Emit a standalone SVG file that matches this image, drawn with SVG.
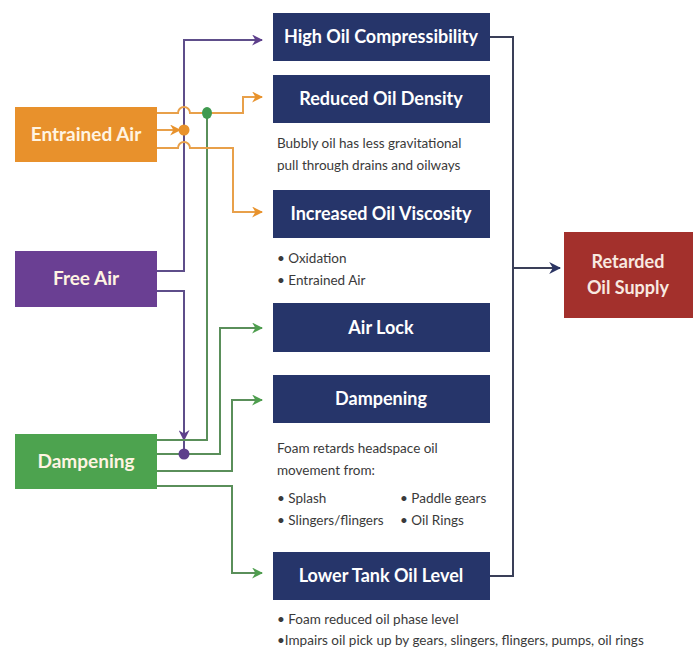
<svg xmlns="http://www.w3.org/2000/svg" width="700" height="652" viewBox="0 0 700 652">
<defs>
<marker id="aO" viewBox="0 0 10 10" refX="9" refY="5" markerWidth="11" markerHeight="11" markerUnits="userSpaceOnUse" orient="auto"><path d="M0,0 L10,5 L0,10 L3,5 z" fill="#E8922C"/></marker>
<marker id="aP" viewBox="0 0 10 10" refX="9" refY="5" markerWidth="11" markerHeight="11" markerUnits="userSpaceOnUse" orient="auto"><path d="M0,0 L10,5 L0,10 L3,5 z" fill="#5E3F8C"/></marker>
<marker id="aG" viewBox="0 0 10 10" refX="9" refY="5" markerWidth="11" markerHeight="11" markerUnits="userSpaceOnUse" orient="auto"><path d="M0,0 L10,5 L0,10 L3,5 z" fill="#4E9E4E"/></marker>
<marker id="aN" viewBox="0 0 10 10" refX="9" refY="5" markerWidth="12" markerHeight="12" markerUnits="userSpaceOnUse" orient="auto"><path d="M0,0 L10,5 L0,10 L3,5 z" fill="#2B3563"/></marker>
</defs>
<style>
.nb{fill:#26356A}
.t{font-family:Lato,"Open Sans","Liberation Sans",sans-serif;font-weight:700;text-anchor:middle}
.tw{fill:#FFFFFF;font-size:18px}
.tl{fill:#FFF4E2;font-size:19px}
.b{font-family:Lato,"Open Sans","Liberation Sans",sans-serif;font-size:13.5px;fill:#3a3a3a}
.o{fill:none;stroke:#E8A04A;stroke-width:2}
.p{fill:none;stroke:#5E4E8A;stroke-width:2}
.g{fill:none;stroke:#5A8F5A;stroke-width:2}
.n{fill:none;stroke:#3A3F58;stroke-width:2}
</style>
<rect width="700" height="652" fill="#FFFFFF"/>

<g id="connectors">
<!-- right collector -->
<path class="n" d="M490,37 H513 V576 H490"/>
<path class="n" d="M513,268 H560" marker-end="url(#aN)"/>
<!-- purple -->
<path class="p" d="M157,271 H184 V40 H262" marker-end="url(#aP)"/>
<path class="p" d="M157,291 H184 V440" marker-end="url(#aP)"/>
<path class="p" d="M184,440 V454"/>
<!-- green -->
<path class="g" d="M157,440 H207 V113"/>
<path class="g" d="M157,454 H220 V328 H262" marker-end="url(#aG)"/>
<path class="g" d="M157,471 H232 V400 H262" marker-end="url(#aG)"/>
<path class="g" d="M157,486 H232 V573 H262" marker-end="url(#aG)"/>
<!-- orange -->
<path class="o" d="M157,113 H178 a6,6 0 0 1 12,0 H243 V97 H262" marker-end="url(#aO)"/>
<path class="o" d="M157,130 H180" marker-end="url(#aO)"/>
<path class="o" d="M157,148 H178 a6,6 0 0 1 12,0 H233 V212 H262" marker-end="url(#aO)"/>
<!-- junction dots -->
<circle cx="184" cy="130" r="5.5" fill="#E8922C"/>
<ellipse cx="207" cy="113" rx="5" ry="6" fill="#3F9A4F"/>
<circle cx="184" cy="454" r="5.5" fill="#5E3F8C"/>
</g>

<g id="entrained-air">
<rect x="15" y="107" width="142" height="55" fill="#E8912C"/>
<text class="t tl" x="86" y="141">Entrained Air</text>
</g>
<g id="free-air">
<rect x="15" y="251" width="142" height="56" fill="#6A3F93"/>
<text class="t tl" x="86" y="285">Free Air</text>
</g>
<g id="dampening-source">
<rect x="15" y="434" width="142" height="55" fill="#4DA34F"/>
<text class="t tl" x="86" y="468" fill="#EFFBEF">Dampening</text>
</g>

<g id="high-oil-compressibility">
<rect class="nb" x="273" y="13" width="217" height="48"/>
<text class="t tw" x="381" y="43">High Oil Compressibility</text>
</g>
<g id="reduced-oil-density">
<rect class="nb" x="273" y="75" width="217" height="48"/>
<text class="t tw" x="381" y="105">Reduced Oil Density</text>
<text class="b" x="277" y="148">Bubbly oil has less gravitational</text>
<text class="b" x="277" y="170">pull through drains and oilways</text>
</g>
<g id="increased-oil-viscosity">
<rect class="nb" x="273" y="190" width="217" height="48"/>
<text class="t tw" x="381" y="220">Increased Oil Viscosity</text>
<text class="b" x="277" y="263">• Oxidation</text>
<text class="b" x="277" y="285">• Entrained Air</text>
</g>
<g id="air-lock">
<rect class="nb" x="273" y="303" width="217" height="49"/>
<text class="t tw" x="381" y="334">Air Lock</text>
</g>
<g id="dampening">
<rect class="nb" x="273" y="375" width="217" height="48"/>
<text class="t tw" x="381" y="405">Dampening</text>
<text class="b" x="277" y="453">Foam retards headspace oil</text>
<text class="b" x="277" y="475">movement from:</text>
<text class="b" x="277" y="503">• Splash</text>
<text class="b" x="277" y="525">• Slingers/flingers</text>
<text class="b" x="400" y="503">• Paddle gears</text>
<text class="b" x="400" y="525">• Oil Rings</text>
</g>
<g id="lower-tank-oil-level">
<rect class="nb" x="273" y="552" width="217" height="48"/>
<text class="t tw" x="381" y="582">Lower Tank Oil Level</text>
<text class="b" x="277" y="624">• Foam reduced oil phase level</text>
<text class="b" x="277" y="645">•Impairs oil pick up by gears, slingers, flingers, pumps, oil rings</text>
</g>

<g id="retarded-oil-supply">
<rect x="564" y="232" width="129" height="86" fill="#A3302C"/>
<text class="t" x="628" y="268" font-size="18" fill="#F8E9E0">Retarded</text>
<text class="t" x="628" y="294" font-size="18" fill="#F8E9E0">Oil Supply</text>
</g>
</svg>
